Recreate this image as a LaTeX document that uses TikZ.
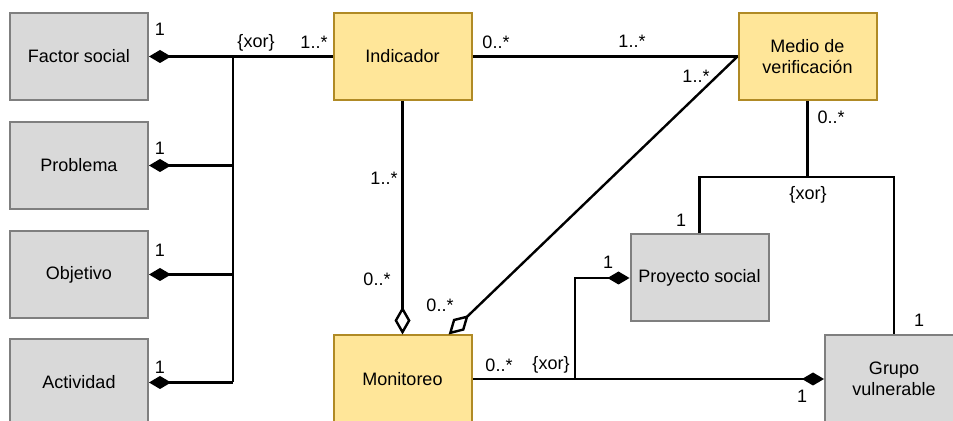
\documentclass[tikz,border=0pt]{standalone}
\usepackage{fontspec}
\setmainfont{Liberation Sans}
\usetikzlibrary{arrows.meta}
\usetikzlibrary{positioning}

\definecolor{greyfill}{HTML}{D9D9D9}
\definecolor{greyline}{HTML}{7F7F7F}
\definecolor{goldfill}{HTML}{FFE699}
\definecolor{goldline}{HTML}{B08A25}

\begin{document}
\begin{tikzpicture}[x=0.5pt, y=-0.5pt, font=\fontsize{9}{10.5}\selectfont,
        grey/.style={rectangle, draw=greyline, fill=greyfill, line width=1pt, minimum width=69pt, minimum height=43.5pt, align=center},
        gold/.style={grey, draw=goldline, fill=goldfill},
        link/.style={line width=1.2pt},
        comp/.style={link, {Diamond[length=11pt, width=6.5pt]}-},
        agg/.style={link, {Diamond[open, length=14pt, width=8pt]}-},
        mult/.style={inner sep=0pt}]
        \useasboundingbox (0,0) rectangle (953,421);
        \clip (0,0) rectangle (953,421);
        \fill[white] (0,0) rectangle (953,421);
        \node[grey] at (79, 56.5) (fs) {Factor social};
        \node[grey] at (79, 165.5) (prob) {Problema};
        \node[grey] at (79, 274.5) (obj) {Objetivo};
        \node[grey] at (79, 382.5) (act) {Actividad};
        \node[gold] at (402.5, 56.5) (ind) {Indicador};
        \node[gold] at (807.5, 56.5) (med) {Medio de\\verificación};
        \node[gold] at (402.5, 379) (mon) {Monitoreo};
        \node[grey] at (699.5, 278) (proy) {Proyecto social};
        \node[grey] at (894, 379) (grupo) {Grupo\\vulnerable};
        \coordinate (bus) at (233, 56.5);
        \coordinate (split) at (807.5, 177);
        \coordinate (bus2) at (575, 379);
        \draw[comp] (fs.east) -- (ind.west);
        \foreach \n in {prob, obj, act}
            \draw[comp] (\n.east) -- (\n.east -| bus);
        \draw[link] (bus) -- (bus |- act.east);
        \draw[link] (ind.east) -- (med.west);
        \draw[agg] (mon.north) -- (ind.south);
        \draw[agg] (mon.44) -- (med.west);
        \draw[link] (med.south) -- (split);
        \draw[link] (proy.north) |- (split) -| (grupo.north);
        \draw[comp] (grupo.west) -- (mon.east);
        \draw[comp] (proy.west) -| (bus2);
        \node[mult] at (160, 29) (m1) {1};
        \node[mult] at (160, 148) (m2) {1};
        \node[mult] at (160, 250) (m3) {1};
        \node[mult] at (160, 367) (m4) {1};
        \node[mult] at (256, 43) (x1) {\{xor\}};
        \node[mult] at (314, 42) (m5) {1..*};
        \node[mult] at (496, 42) (m6) {0..*};
        \node[mult] at (632, 41) (m7) {1..*};
        \node[mult] at (696, 76) (m8) {1..*};
        \node[mult] at (831, 117) (m9) {0..*};
        \node[mult] at (808, 195) (x2) {\{xor\}};
        \node[mult] at (384, 178) (m10) {1..*};
        \node[mult] at (377, 279) (m11) {0..*};
        \node[mult] at (440, 305) (m12) {0..*};
        \node[mult] at (681, 220) (m13) {1};
        \node[mult] at (608, 262) (m14) {1};
        \node[mult] at (919, 320) (m15) {1};
        \node[mult] at (802, 396) (m16) {1};
        \node[mult] at (499, 365) (m17) {0..*};
        \node[mult] at (551, 365) (x3) {\{xor\}};
\end{tikzpicture}
\end{document}
